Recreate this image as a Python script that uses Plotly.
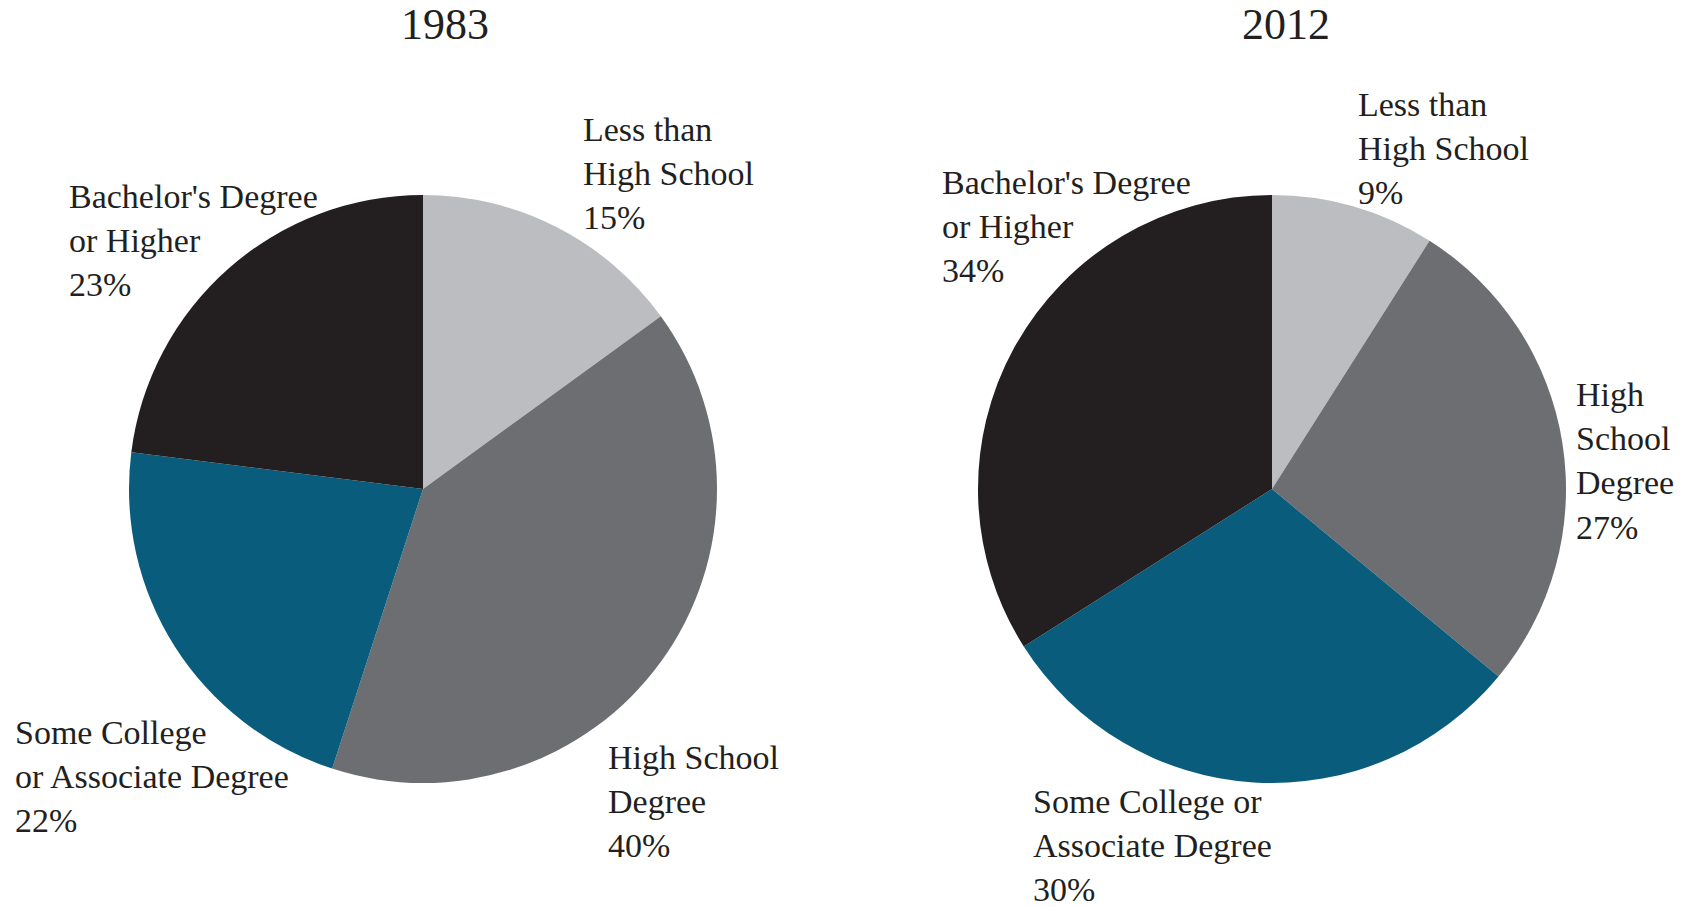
import plotly.graph_objects as go

# Educational attainment shares (percent), slices run clockwise from 12 o'clock
categories = ["Less than High School", "High School Degree",
              "Some College or Associate Degree", "Bachelor's Degree or Higher"]
values_1983 = [15, 40, 22, 23]
values_2012 = [9, 27, 30, 34]
years = ["1983", "2012"]

slice_colors = ["#BCBDC0", "#6D6E71", "#0A5C7D", "#231F20"]
text_color = "#231F20"
font_family = "Liberation Serif, Times New Roman, serif"

# Line-broken label text for each slice of each pie
label_lines_1983 = [["Less than", "High School"], ["High School", "Degree"],
                    ["Some College", "or Associate Degree"], ["Bachelor's Degree", "or Higher"]]
label_lines_2012 = [["Less than", "High School"], ["High", "School", "Degree"],
                    ["Some College or", "Associate Degree"], ["Bachelor's Degree", "or Higher"]]

W, H = 1686, 907
R = 294  # pie radius in px
centers = [(423, 489), (1272, 489)]

# label anchor: (left x px, middle y px of the text block)
label_pos_1983 = [(581, 174), (606, 801), (13, 776), (67, 240)]
label_pos_2012 = [(1356, 148), (1574, 461), (1031, 845), (940, 227)]
title_pos = [(445, 24), (1286, 24)]

fig = go.Figure()

for (cx, cy), vals in zip(centers, [values_1983, values_2012]):
    fig.add_trace(go.Pie(
        labels=categories,
        values=vals,
        sort=False,
        direction="clockwise",
        rotation=0,
        marker=dict(colors=slice_colors, line=dict(width=0)),
        textinfo="none",
        hoverinfo="label+percent",
        showlegend=False,
        domain=dict(x=[(cx - R) / W, (cx + R) / W],
                    y=[(H - cy - R) / H, (H - cy + R) / H]),
    ))

annotations = []
for lines_set, vals, positions in [(label_lines_1983, values_1983, label_pos_1983),
                                   (label_lines_2012, values_2012, label_pos_2012)]:
    for lines, v, (lx, ly) in zip(lines_set, vals, positions):
        annotations.append(dict(
            text="<br>".join(lines + [f"{v}%"]),
            x=lx / W, y=1 - ly / H, xref="paper", yref="paper",
            xanchor="left", yanchor="middle", align="left", showarrow=False,
            font=dict(family=font_family, size=34, color=text_color),
        ))

for yr, (tx, ty) in zip(years, title_pos):
    annotations.append(dict(
        text=yr, x=tx / W, y=1 - ty / H, xref="paper", yref="paper",
        xanchor="center", yanchor="middle", showarrow=False,
        font=dict(family=font_family, size=44, color=text_color),
    ))

fig.update_layout(
    width=W, height=H,
    margin=dict(l=0, r=0, t=0, b=0),
    paper_bgcolor="white", plot_bgcolor="white",
    annotations=annotations,
)

fig.write_html("out.html")
